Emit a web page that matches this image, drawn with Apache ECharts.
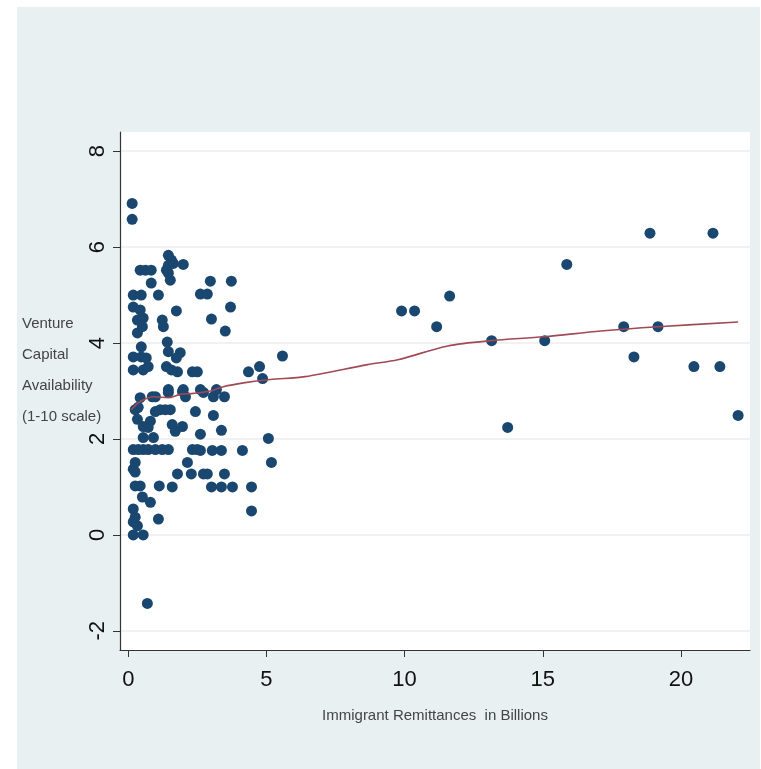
<!DOCTYPE html>
<html>
<head>
<meta charset="utf-8">
<script src="https://cdn.jsdelivr.net/npm/echarts@6/dist/echarts.min.js"></script>
<style>
  html, body { margin: 0; padding: 0; background: #fff; }
  #bg { position: absolute; left: 17px; top: 7px; width: 743px; height: 762px; background: #e9f0f2; }
  #chart { position: absolute; left: 0; top: 0; width: 761px; height: 769px; }
</style>
</head>
<body>
<div id="bg"></div>
<div id="chart"></div>
<script>
// remittances (billions) and venture capital score
var remitX = [
  18.88, 21.16, 15.87, 9.89, 10.36, 11.16, 11.63, 13.15, 15.07, 13.73, 17.93, 19.17, 18.30, 20.47, 21.41, 22.07,
  2.97, 3.73, 2.61, 2.86, 3.70, 3.01, 3.51, 5.58, 4.35, 4.75, 4.86, 2.61, 2.72, 3.19, 3.08, 3.48, 3.08,
  2.61, 3.37, 5.07, 2.61, 3.04, 3.37, 4.13, 5.18, 2.72, 2.86, 3.48, 3.01, 3.37, 3.77, 4.46, 4.46,
  2.43, 2.32, 2.50, 2.14, 1.78, 2.28, 2.32, 2.50, 1.96, 2.07, 1.59, 1.70, 1.96, 1.74, 1.99,
  0.14, 0.14, 1.45, 1.56, 1.45, 1.63, 0.43, 0.62, 0.83, 1.38, 1.45, 0.83, 1.52, 0.18, 0.47, 1.09,
  0.18, 0.43, 0.33, 0.54, 1.23, 1.27, 0.33, 0.51, 0.47, 0.18, 0.47, 0.65, 1.41, 1.45, 1.88, 1.74,
  0.18, 0.54, 0.72, 1.38, 1.56, 1.78, 0.43, 0.87, 0.98, 1.45, 1.45, 1.99,
  0.25, 0.36, 0.33, 0.98, 1.16, 1.34, 1.52, 0.80, 0.54, 0.72, 0.54, 0.91,
  0.18, 0.36, 0.54, 0.72, 0.98, 1.23, 1.45, 0.25, 0.18, 0.25, 1.12, 1.59, 0.25, 0.43,
  0.51, 0.80, 0.18, 0.25, 0.18, 0.33, 1.09, 0.18, 0.54, 0.69
]
var ventureY = [
  6.29, 6.29, 5.64, 4.67, 4.67, 4.34, 4.98, 4.05, 4.05, 2.24, 4.34, 4.34, 3.71, 3.51, 3.51, 2.49,
  5.29, 5.29, 5.02, 5.02, 4.75, 4.50, 4.25, 3.73, 3.40, 3.51, 3.26, 3.03, 2.97, 3.03, 2.88, 2.88, 2.49,
  2.10, 2.18, 2.01, 1.76, 1.76, 1.76, 1.76, 1.51, 1.27, 1.27, 1.27, 1.00, 1.00, 1.00, 1.00, 0.50,
  2.57, 1.78, 1.78, 1.51, 1.27, 1.27, 3.40, 3.40, 2.99, 2.88, 2.30, 2.16, 2.26, 4.67, 5.64,
  6.91, 6.58, 5.83, 5.73, 5.62, 5.66, 5.52, 5.52, 5.52, 5.52, 5.46, 5.25, 5.31, 5.00, 5.00, 5.00,
  4.75, 4.69, 4.48, 4.52, 4.48, 4.34, 4.21, 4.34, 3.92, 3.71, 3.71, 3.69, 4.02, 3.82, 3.80, 3.69,
  3.44, 3.44, 3.51, 3.51, 3.44, 3.40, 2.86, 2.88, 2.88, 2.97, 3.03, 3.03,
  2.61, 2.66, 2.41, 2.57, 2.61, 2.61, 2.61, 2.37, 2.26, 2.24, 2.03, 2.03,
  1.78, 1.78, 1.78, 1.78, 1.78, 1.78, 1.78, 1.51, 1.37, 1.31, 1.02, 1.00, 1.02, 1.02,
  0.79, 0.68, 0.54, 0.37, 0.27, 0.19, 0.33, 0.00, 0.00, -1.43
]

// lowess fit line
var fitX = [0.11, 0.43, 0.91, 1.45, 1.88, 2.36, 2.97, 3.44, 4.17, 5.14, 6.4, 8.66, 9.75, 11.56, 13.12, 15.04, 17.1, 19.17, 22.07]
var fitY = [2.61, 2.78, 2.88, 2.86, 2.93, 2.95, 3.00, 3.09, 3.17, 3.24, 3.30, 3.55, 3.65, 3.94, 4.05, 4.13, 4.25, 4.34, 4.44]

var xTicks = [0, 5, 10, 15, 20]
var yTicks = [-2, 0, 2, 4, 6, 8]

var points = remitX.map(function(x, i) { return [x, ventureY[i]] })
var fitLine = fitX.map(function(x, i) { return [x, fitY[i]] })

var labelFont = 'Liberation Sans, Arial, sans-serif'

var option = {
  animation: false,
  grid: {
    left: 120,
    top: 132,
    right: 11,
    bottom: 119,
    show: true,
    backgroundColor: '#ffffff',
    borderWidth: 0
  },
  xAxis: {
    type: 'value',
    min: -0.3,
    max: 22.5,
    axisLine: { show: true, onZero: false, lineStyle: { color: '#333', width: 1.2 } },
    axisTick: { show: true, length: 7, customValues: xTicks, lineStyle: { color: '#333' } },
    axisLabel: { customValues: xTicks, color: '#111', fontSize: 22, fontFamily: labelFont, margin: 19 },
    splitLine: { show: false },
    name: 'Immigrant Remittances  in Billions',
    nameLocation: 'middle',
    nameGap: 58,
    nameTextStyle: { color: '#444', fontSize: 15, fontFamily: labelFont }
  },
  yAxis: {
    type: 'value',
    min: -2.4,
    max: 8.4,
    axisLine: { show: true, onZero: false, lineStyle: { color: '#333', width: 1.2 } },
    axisTick: { show: true, length: 7, customValues: yTicks, lineStyle: { color: '#333' } },
    axisLabel: { customValues: yTicks, rotate: 90, color: '#111', fontSize: 22, fontFamily: labelFont, margin: 11 },
    splitLine: { show: true, customValues: yTicks, lineStyle: { color: '#ececec', width: 1.5 } }
  },
  graphic: [
    {
      type: 'text',
      left: 22,
      top: 308,
      style: {
        text: 'Venture\nCapital\nAvailability\n(1-10 scale)',
        font: '15px Liberation Sans, Arial, sans-serif',
        fill: '#444',
        lineHeight: 31
      }
    }
  ],
  series: [
    {
      name: 'points',
      type: 'scatter',
      data: points,
      symbolSize: 11,
      itemStyle: { color: '#1a476f', opacity: 1 },
      z: 2
    },
    {
      name: 'lowess',
      type: 'line',
      data: fitLine,
      showSymbol: false,
      smooth: 0.3,
      lineStyle: { color: '#a04a55', width: 1.6 },
      z: 3
    }
  ]
}

var myChart = echarts.init(document.getElementById('chart'))
myChart.setOption(option)
</script>
</body>
</html>
